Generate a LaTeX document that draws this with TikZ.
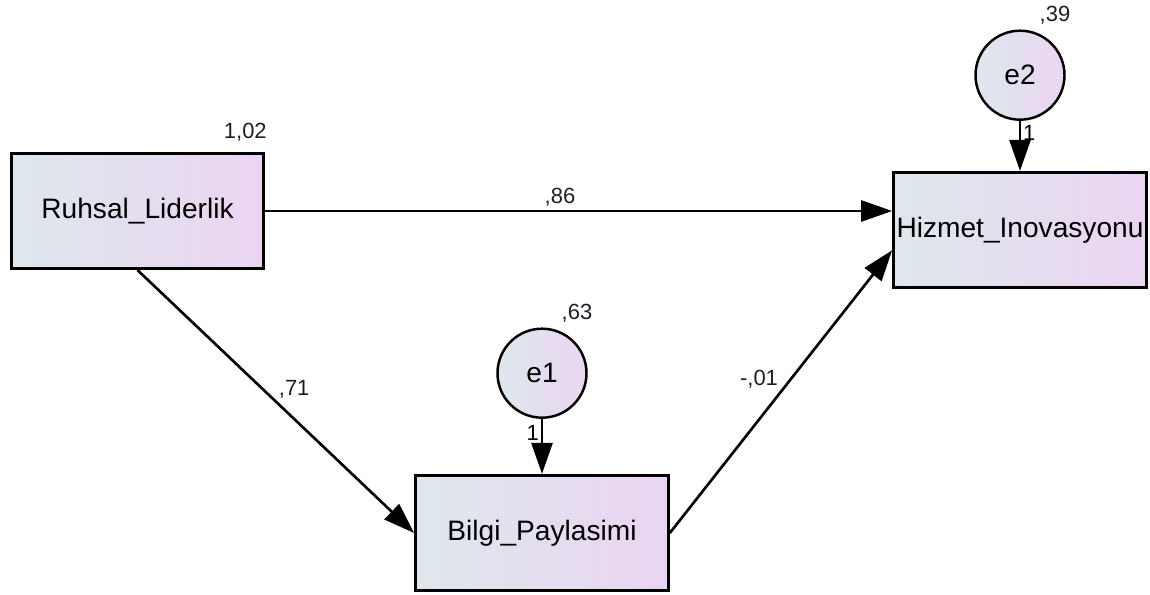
\documentclass[tikz,border=0pt]{standalone}
\usepackage{fontspec}
\setmainfont{Liberation Sans}
\usetikzlibrary{arrows.meta,positioning,calc}
\definecolor{boxleft}{RGB}{222,231,236}
\definecolor{boxright}{RGB}{235,213,242}
\definecolor{labelgray}{RGB}{30,30,40}

\begin{document}
\begin{tikzpicture}[
  observed/.style={draw=black,line width=1.8pt,left color=boxleft,right color=boxright,minimum width=5.05cm,minimum height=2.3cm,inner sep=0pt,font=\fontsize{16}{19}\selectfont},
  residual/.style={circle,draw=black,line width=1.4pt,left color=boxleft,right color=boxright,minimum size=1.78cm,inner sep=0pt,font=\fontsize{16}{19}\selectfont},
  estimate/.style={font=\fontsize{12.5}{15}\selectfont,text=labelgray,inner sep=1pt},
  regpath/.style={-{Triangle[length=0.62cm,width=0.42cm]},line width=1.5pt}
]
\useasboundingbox (0,0) rectangle (23,11.88);
% observed variables
\node[observed] (ruhsal) at (2.75,7.66) {Ruhsal\_Liderlik};
\node[observed] (hizmet) at (20.4,7.28) {Hizmet\_Inovasyonu};
\node[observed] (bilgi) at (10.84,1.22) {Bilgi\_Paylasimi};
% error terms
\node[residual,above=1.0cm of hizmet] (e2) {e2};
\node[residual,above=1.1cm of bilgi] (e1) {e1};
% variances
\node[estimate] at ($(ruhsal.north east)+(-0.4,0.4)$) {1,02};
\node[estimate] at ($(e2.center)+(0.7,1.2)$) {,39};
\node[estimate] at ($(e1.center)+(0.7,1.2)$) {,63};
% paths
\draw[regpath] (ruhsal.east) -- (ruhsal.east -| hizmet.west) node[estimate,above=1pt,pos=0.47] {,86};
\draw[regpath] (ruhsal.south) -- (bilgi.west) node[estimate,above right,pos=0.5] {,71};
\draw[regpath] (bilgi.east) -- (hizmet.189) node[estimate,above left,pos=0.5] {-,01};
\draw[regpath] (e2) -- (hizmet) node[estimate,right,pos=0.25,text=black] {1};
\draw[regpath] (e1) -- (bilgi) node[estimate,left,pos=0.25,text=black] {1};
\end{tikzpicture}
\end{document}
